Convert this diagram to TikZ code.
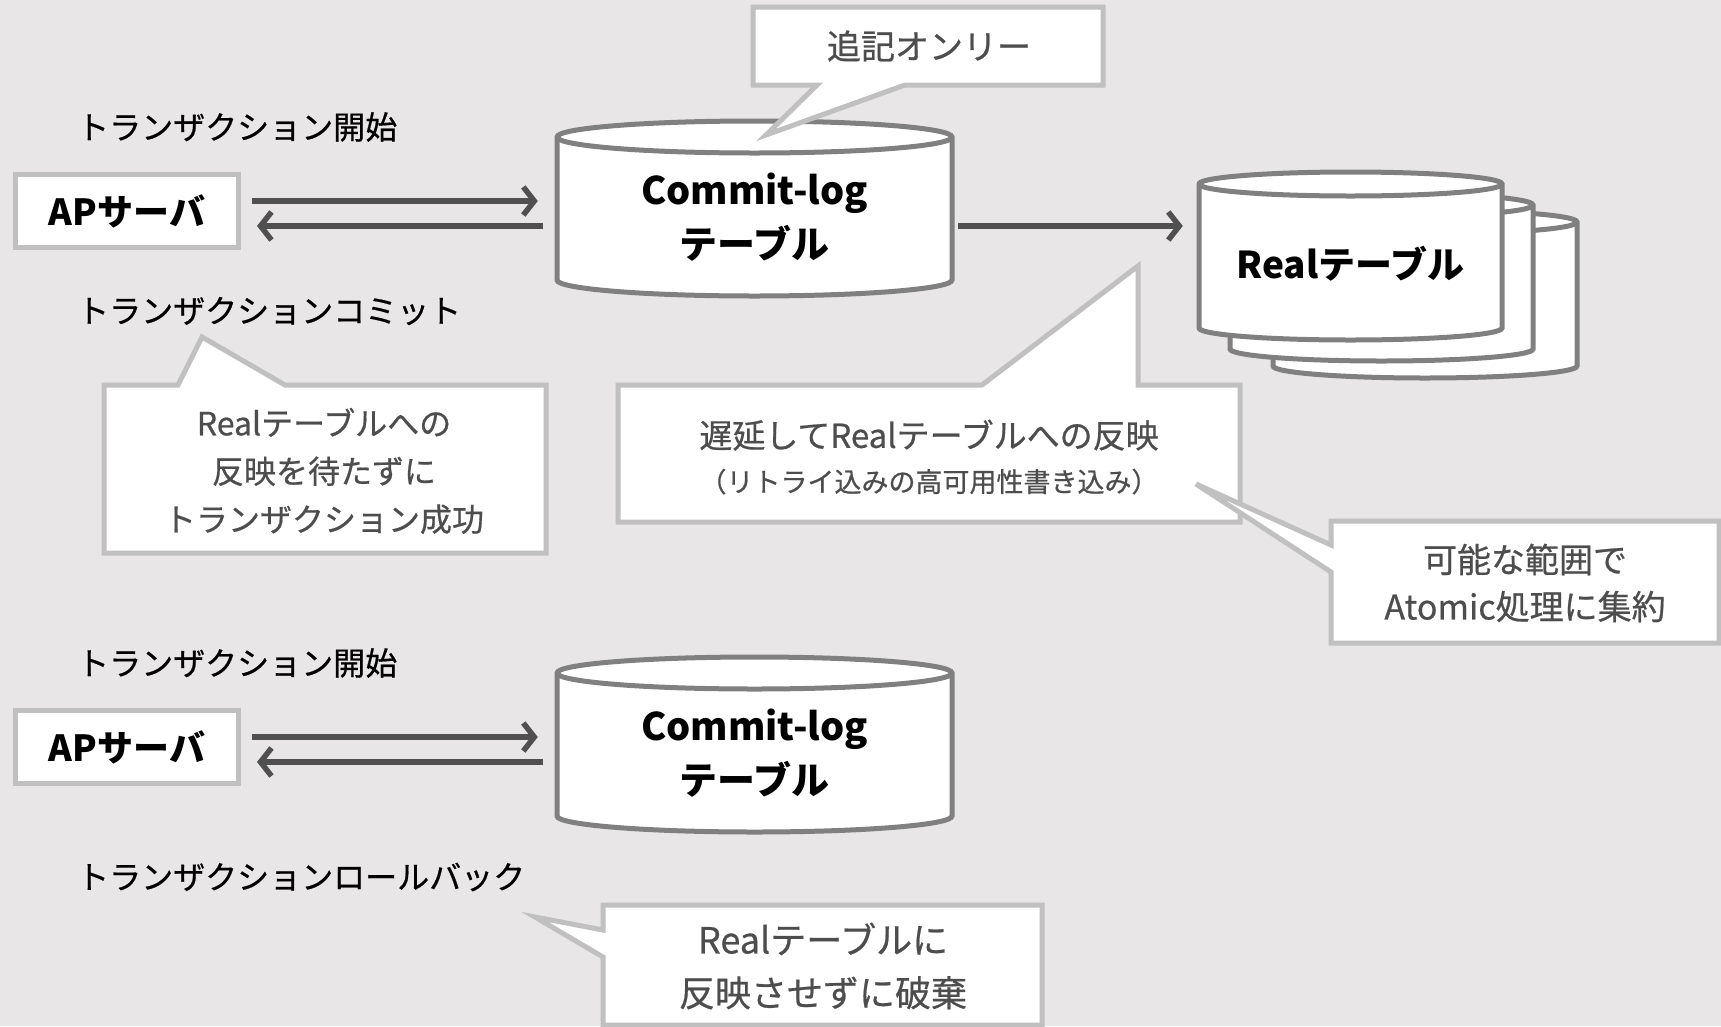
\documentclass[tikz,border=0pt]{standalone}
\usepackage{fontspec}
\setmainfont{Noto Sans CJK JP}
\newfontfamily\medfont{Noto Sans CJK JP}[FakeBold=0.6]
\usetikzlibrary{arrows.meta}
\definecolor{bgcol}{RGB}{232,230,231}
\definecolor{calloutline}{RGB}{192,192,192}
\definecolor{drumline}{RGB}{128,128,128}
\definecolor{flowcol}{RGB}{80,80,80}
\definecolor{notetext}{RGB}{77,77,77}
\newcommand{\jfs}[2]{\fontsize{#1}{#2}\selectfont}
% drum: left x, centre y of top ellipse, width, body height, y radius
\newcommand{\drum}[5]{%
	\filldraw[drum] (#1,#2) -- ++(0,-#4) arc[start angle=180,end angle=360,x radius=#3/2,y radius=#5] -- ++(0,#4) arc[start angle=0,end angle=180,x radius=#3/2,y radius=#5] -- cycle;
	\draw[drum] (#1,#2) arc[start angle=180,end angle=360,x radius=#3/2,y radius=#5];
}
\begin{document}
\begin{tikzpicture}[x=1pt,y=1pt,
	drum/.style={draw=drumline,fill=white,line width=5pt},
	callout/.style={draw=calloutline,fill=white,line width=5pt},
	apbox/.style={draw=calloutline,fill=white,line width=5pt,minimum width=223pt,minimum height=73pt,font=\jfs{36}{40}\bfseries},
	dbtext/.style={align=center,inner sep=0pt,minimum width=395pt,font=\jfs{38}{54}\bfseries},
	flow/.style={draw=flowcol,line width=5.5pt,-{Straight Barb[length=11pt,width=28pt]}},
	lbl/.style={anchor=west,inner sep=0pt,font=\jfs{32}{38}\medfont},
	note/.style={align=center,text=notetext,inner sep=0pt}]
	\fill[bgcol] (0,0) rectangle (1721,-1026);
	\useasboundingbox (0,0) rectangle (1721,-1026);

	% commit
	\node[lbl] (begin1) at (77,-127) {トランザクション開始};
	\node[apbox] (ap1) at (127,-211) {APサーバ};
	\drum{557}{-137}{395}{143}{16}
	\node[dbtext] (clog1) at (754.5,-217) {Commit-log\\テーブル};
	\draw[flow,shorten <=11pt,shorten >=19pt] ([yshift=10pt]ap1.east) -- ([yshift=10pt]ap1.east -| clog1.west);
	\draw[flow,shorten <=14pt,shorten >=16pt] ([yshift=-15pt]ap1.east -| clog1.west) -- ([yshift=-15pt]ap1.east);

	\drum{1273}{-222}{304}{144}{12}
	\drum{1230}{-205}{303}{144}{12}
	\drum{1199}{-184}{303}{144}{12}
	\node[inner sep=0pt,minimum width=303pt,font=\jfs{37}{40}\bfseries] (real) at (1350.5,-264) {Realテーブル};
	\draw[flow,shorten <=6pt,shorten >=16pt] ([yshift=-9pt]clog1.east) -- ([yshift=-9pt]clog1.east -| real.west);

	\draw[callout] (753,-7) -- (1103,-7) -- (1103,-85) -- (905,-85) -- (766,-135) -- (817,-85) -- (753,-85) -- cycle;
	\node[note,font=\jfs{34}{40}\medfont] (append) at (929,-46) {追記オンリー};

	\node[lbl] (commit1) at (77,-311) {トランザクションコミット};
	\draw[callout] (104,-385) -- (178,-385) -- (202,-337) -- (285,-385) -- (546,-385) -- (546,-553) -- (104,-553) -- cycle;
	\node[note,font=\jfs{32}{48}\medfont] (nowait) at (324,-471) {Realテーブルへの\\反映を待たずに\\トランザクション成功};

	\draw[callout] (618,-385) -- (982,-385) -- (1138,-266) -- (1138,-385) -- (1240,-385) -- (1240,-522) -- (618,-522) -- cycle;
	\node[note,font=\jfs{33}{44}\medfont] (delay) at (929,-457) {遅延してRealテーブルへの反映\\{\jfs{27}{30}（リトライ込みの高可用性書き込み）}};

	\draw[callout] (1331,-521) -- (1719,-521) -- (1719,-643) -- (1331,-643) -- (1331,-572) -- (1196,-484) -- (1331,-545) -- cycle;
	\node[note,font=\jfs{34}{47}\medfont] (atomic) at (1525,-583) {可能な範囲で\\Atomic処理に集約};

	% rollback
	\node[lbl] (begin2) at (77,-663) {トランザクション開始};
	\node[apbox] (ap2) at (127,-747) {APサーバ};
	\drum{557}{-673}{395}{143}{16}
	\node[dbtext] (clog2) at (754.5,-753) {Commit-log\\テーブル};
	\draw[flow,shorten <=11pt,shorten >=19pt] ([yshift=10pt]ap2.east) -- ([yshift=10pt]ap2.east -| clog2.west);
	\draw[flow,shorten <=14pt,shorten >=16pt] ([yshift=-15pt]ap2.east -| clog2.west) -- ([yshift=-15pt]ap2.east);

	\node[lbl] (rollback) at (77,-877) {トランザクションロールバック};
	\draw[callout] (603,-905) -- (1042,-905) -- (1042,-1025) -- (603,-1025) -- (603,-957) -- (535,-917) -- (603,-930) -- cycle;
	\node[note,font=\jfs{36}{53}\medfont] (discard) at (823,-966) {Realテーブルに\\反映させずに破棄};
\end{tikzpicture}
\end{document}
